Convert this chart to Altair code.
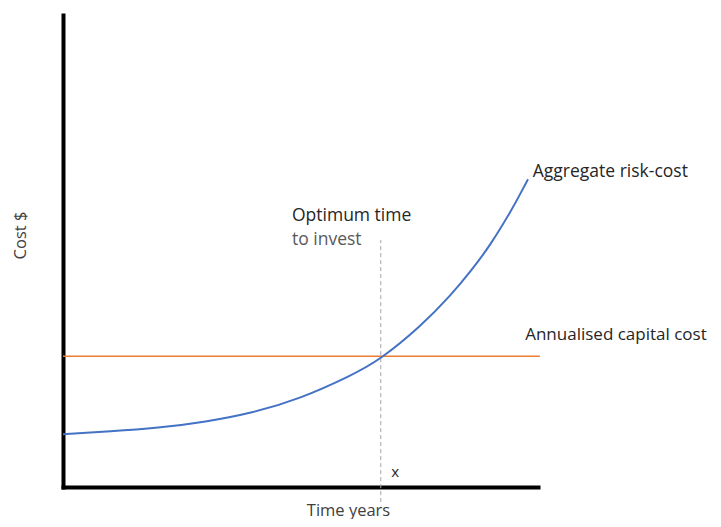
import altair as alt
import pandas as pd

# Aggregate risk-cost curve (time in arbitrary years 0-100, cost 0-100)
curve_x = [0, 10, 20, 30, 40, 50, 60, 67.2, 75, 81.5, 86, 90, 94, 96.2, 97.9]
curve_y = [11.2, 11.8, 12.6, 13.9, 15.9, 19.0, 23.4, 27.6, 34.0, 40.6, 46.0, 51.5, 58.0, 62.0, 65.2]

# Annualised capital cost (flat)
capital_x = [0, 100.4]
capital_y = [27.7, 27.7]

# Optimum time marker
optimum_x = [66.9, 66.9]
optimum_y = [-3.2, 52.3]

# Annotations
label_text = ["Optimum time", "to invest", "Aggregate risk-cost", "Annualised capital cost", "x"]
label_x = [48.2, 48.2, 98.9, 97.3, 69.1]
label_y = [57.4, 52.3, 66.7, 32.2, 3.2]
label_color = ["#262626", "#595959", "#262626", "#262626", "#262626"]
label_size = [17.5, 17.5, 17.5, 17, 15]

FONT = "Open Sans"

xs = alt.Scale(domain=[0, 100], nice=False, zero=False)
ys = alt.Scale(domain=[0, 100], nice=False, zero=False)

curve_df = pd.DataFrame({"t": curve_x, "c": curve_y})
cap_df = pd.DataFrame({"t": capital_x, "c": capital_y})
opt_df = pd.DataFrame({"t": optimum_x, "c": optimum_y})
lab_df = pd.DataFrame({"text": label_text, "t": label_x, "c": label_y,
                       "col": label_color, "size": label_size})

x_axis = alt.Axis(
    title="Time years", labels=False, ticks=False, grid=False,
    domainWidth=4, domainColor="black", domainCap="square",
    titleX=285, titleY=23, titleAlign="center", titleBaseline="middle",
    titleFont=FONT, titleFontSize=16.5, titleFontWeight="normal", titleColor="#404040",
)
y_axis = alt.Axis(
    title="Cost $", labels=False, ticks=False, grid=False,
    domainWidth=4, domainColor="black", domainCap="square",
    titleX=-43, titleY=220, titleAlign="center", titleBaseline="middle", titleAngle=270,
    titleFont=FONT, titleFontSize=16.5, titleFontWeight="normal", titleColor="#404040",
)

curve = alt.Chart(curve_df).mark_line(color="#4472C4", strokeWidth=2, interpolate="natural").encode(
    x=alt.X("t:Q", scale=xs, axis=x_axis),
    y=alt.Y("c:Q", scale=ys, axis=y_axis),
)

cap = alt.Chart(cap_df).mark_line(color="#ED7D31", strokeWidth=1.5).encode(
    x=alt.X("t:Q", scale=xs),
    y=alt.Y("c:Q", scale=ys),
)

opt = alt.Chart(opt_df).mark_line(color="#A6A6A6", strokeWidth=1, strokeDash=[4, 3]).encode(
    x=alt.X("t:Q", scale=xs),
    y=alt.Y("c:Q", scale=ys),
)

labels = alt.Chart(lab_df).mark_text(align="left", baseline="middle", font=FONT).encode(
    x=alt.X("t:Q", scale=xs),
    y=alt.Y("c:Q", scale=ys),
    text="text:N",
    color=alt.Color("col:N", scale=None),
    size=alt.Size("size:Q", scale=None),
)

chart = alt.layer(opt, cap, curve, labels).properties(
    width=475, height=472,
    background="white",
    autosize=alt.AutoSizeParams(type="none"),
    padding={"left": 55, "top": 7, "right": 175, "bottom": 32},
).configure_view(strokeWidth=0, stroke="transparent")

chart.save("out.html", embed_options={"renderer": "svg", "actions": False})
